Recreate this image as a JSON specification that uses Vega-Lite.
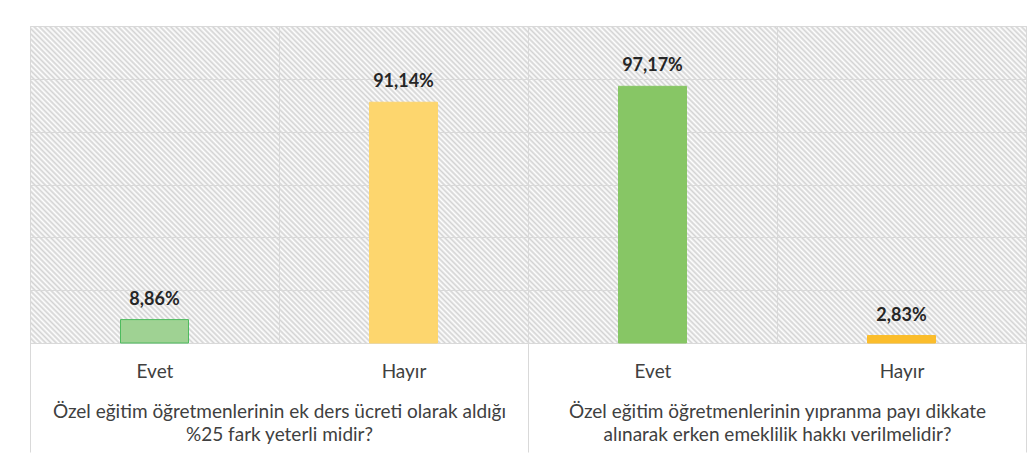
{
 "$schema": "https://vega.github.io/schema/vega-lite/v6.json",
 "width": 996,
 "height": 317,
 "autosize": {"type": "none"},
 "padding": {"left": 30, "top": 26, "right": 9, "bottom": 124},
 "background": "#ffffff",
 "config": {
  "locale": {"number": {"decimal": ",", "thousands": ".", "grouping": [3], "currency": ["", " TL"]}},
  "font": "Lato",
  "view": {
   "stroke": "#d9d9d9",
   "strokeWidth": 1,
   "fill": {
    "gradient": "linear", "x1": 0, "y1": 1, "x2": 1.19702, "y2": 0.61902,
    "stops": [
{"offset":0,"color":"#d3d3d3"},{"offset":0.002,"color":"#fff"},{"offset":0.004,"color":"#d3d3d3"},{"offset":0.006,"color":"#fff"},{"offset":0.008,"color":"#d3d3d3"},
{"offset":0.01,"color":"#fff"},{"offset":0.012,"color":"#d3d3d3"},{"offset":0.014,"color":"#fff"},{"offset":0.016,"color":"#d3d3d3"},{"offset":0.018,"color":"#fff"},
{"offset":0.02,"color":"#d3d3d3"},{"offset":0.022,"color":"#fff"},{"offset":0.024,"color":"#d3d3d3"},{"offset":0.026,"color":"#fff"},{"offset":0.028,"color":"#d3d3d3"},
{"offset":0.03,"color":"#fff"},{"offset":0.032,"color":"#d3d3d3"},{"offset":0.034,"color":"#fff"},{"offset":0.036,"color":"#d3d3d3"},{"offset":0.038,"color":"#fff"},
{"offset":0.04,"color":"#d3d3d3"},{"offset":0.042,"color":"#fff"},{"offset":0.044,"color":"#d3d3d3"},{"offset":0.046,"color":"#fff"},{"offset":0.048,"color":"#d3d3d3"},
{"offset":0.05,"color":"#fff"},{"offset":0.052,"color":"#d3d3d3"},{"offset":0.054,"color":"#fff"},{"offset":0.056,"color":"#d3d3d3"},{"offset":0.058,"color":"#fff"},
{"offset":0.06,"color":"#d3d3d3"},{"offset":0.062,"color":"#fff"},{"offset":0.064,"color":"#d3d3d3"},{"offset":0.066,"color":"#fff"},{"offset":0.068,"color":"#d3d3d3"},
{"offset":0.07,"color":"#fff"},{"offset":0.072,"color":"#d3d3d3"},{"offset":0.074,"color":"#fff"},{"offset":0.076,"color":"#d3d3d3"},{"offset":0.078,"color":"#fff"},
{"offset":0.08,"color":"#d3d3d3"},{"offset":0.082,"color":"#fff"},{"offset":0.084,"color":"#d3d3d3"},{"offset":0.086,"color":"#fff"},{"offset":0.088,"color":"#d3d3d3"},
{"offset":0.09,"color":"#fff"},{"offset":0.092,"color":"#d3d3d3"},{"offset":0.094,"color":"#fff"},{"offset":0.096,"color":"#d3d3d3"},{"offset":0.098,"color":"#fff"},
{"offset":0.10,"color":"#d3d3d3"},{"offset":0.102,"color":"#fff"},{"offset":0.104,"color":"#d3d3d3"},{"offset":0.106,"color":"#fff"},{"offset":0.108,"color":"#d3d3d3"},
{"offset":0.11,"color":"#fff"},{"offset":0.112,"color":"#d3d3d3"},{"offset":0.114,"color":"#fff"},{"offset":0.116,"color":"#d3d3d3"},{"offset":0.118,"color":"#fff"},
{"offset":0.12,"color":"#d3d3d3"},{"offset":0.122,"color":"#fff"},{"offset":0.124,"color":"#d3d3d3"},{"offset":0.126,"color":"#fff"},{"offset":0.128,"color":"#d3d3d3"},
{"offset":0.13,"color":"#fff"},{"offset":0.132,"color":"#d3d3d3"},{"offset":0.134,"color":"#fff"},{"offset":0.136,"color":"#d3d3d3"},{"offset":0.138,"color":"#fff"},
{"offset":0.14,"color":"#d3d3d3"},{"offset":0.142,"color":"#fff"},{"offset":0.144,"color":"#d3d3d3"},{"offset":0.146,"color":"#fff"},{"offset":0.148,"color":"#d3d3d3"},
{"offset":0.15,"color":"#fff"},{"offset":0.152,"color":"#d3d3d3"},{"offset":0.154,"color":"#fff"},{"offset":0.156,"color":"#d3d3d3"},{"offset":0.158,"color":"#fff"},
{"offset":0.16,"color":"#d3d3d3"},{"offset":0.162,"color":"#fff"},{"offset":0.164,"color":"#d3d3d3"},{"offset":0.166,"color":"#fff"},{"offset":0.168,"color":"#d3d3d3"},
{"offset":0.17,"color":"#fff"},{"offset":0.172,"color":"#d3d3d3"},{"offset":0.174,"color":"#fff"},{"offset":0.176,"color":"#d3d3d3"},{"offset":0.178,"color":"#fff"},
{"offset":0.18,"color":"#d3d3d3"},{"offset":0.182,"color":"#fff"},{"offset":0.184,"color":"#d3d3d3"},{"offset":0.186,"color":"#fff"},{"offset":0.188,"color":"#d3d3d3"},
{"offset":0.19,"color":"#fff"},{"offset":0.192,"color":"#d3d3d3"},{"offset":0.194,"color":"#fff"},{"offset":0.196,"color":"#d3d3d3"},{"offset":0.198,"color":"#fff"},
{"offset":0.20,"color":"#d3d3d3"},{"offset":0.202,"color":"#fff"},{"offset":0.204,"color":"#d3d3d3"},{"offset":0.206,"color":"#fff"},{"offset":0.208,"color":"#d3d3d3"},
{"offset":0.21,"color":"#fff"},{"offset":0.212,"color":"#d3d3d3"},{"offset":0.214,"color":"#fff"},{"offset":0.216,"color":"#d3d3d3"},{"offset":0.218,"color":"#fff"},
{"offset":0.22,"color":"#d3d3d3"},{"offset":0.222,"color":"#fff"},{"offset":0.224,"color":"#d3d3d3"},{"offset":0.226,"color":"#fff"},{"offset":0.228,"color":"#d3d3d3"},
{"offset":0.23,"color":"#fff"},{"offset":0.232,"color":"#d3d3d3"},{"offset":0.234,"color":"#fff"},{"offset":0.236,"color":"#d3d3d3"},{"offset":0.238,"color":"#fff"},
{"offset":0.24,"color":"#d3d3d3"},{"offset":0.242,"color":"#fff"},{"offset":0.244,"color":"#d3d3d3"},{"offset":0.246,"color":"#fff"},{"offset":0.248,"color":"#d3d3d3"},
{"offset":0.25,"color":"#fff"},{"offset":0.252,"color":"#d3d3d3"},{"offset":0.254,"color":"#fff"},{"offset":0.256,"color":"#d3d3d3"},{"offset":0.258,"color":"#fff"},
{"offset":0.26,"color":"#d3d3d3"},{"offset":0.262,"color":"#fff"},{"offset":0.264,"color":"#d3d3d3"},{"offset":0.266,"color":"#fff"},{"offset":0.268,"color":"#d3d3d3"},
{"offset":0.27,"color":"#fff"},{"offset":0.272,"color":"#d3d3d3"},{"offset":0.274,"color":"#fff"},{"offset":0.276,"color":"#d3d3d3"},{"offset":0.278,"color":"#fff"},
{"offset":0.28,"color":"#d3d3d3"},{"offset":0.282,"color":"#fff"},{"offset":0.284,"color":"#d3d3d3"},{"offset":0.286,"color":"#fff"},{"offset":0.288,"color":"#d3d3d3"},
{"offset":0.29,"color":"#fff"},{"offset":0.292,"color":"#d3d3d3"},{"offset":0.294,"color":"#fff"},{"offset":0.296,"color":"#d3d3d3"},{"offset":0.298,"color":"#fff"},
{"offset":0.30,"color":"#d3d3d3"},{"offset":0.302,"color":"#fff"},{"offset":0.304,"color":"#d3d3d3"},{"offset":0.306,"color":"#fff"},{"offset":0.308,"color":"#d3d3d3"},
{"offset":0.31,"color":"#fff"},{"offset":0.312,"color":"#d3d3d3"},{"offset":0.314,"color":"#fff"},{"offset":0.316,"color":"#d3d3d3"},{"offset":0.318,"color":"#fff"},
{"offset":0.32,"color":"#d3d3d3"},{"offset":0.322,"color":"#fff"},{"offset":0.324,"color":"#d3d3d3"},{"offset":0.326,"color":"#fff"},{"offset":0.328,"color":"#d3d3d3"},
{"offset":0.33,"color":"#fff"},{"offset":0.332,"color":"#d3d3d3"},{"offset":0.334,"color":"#fff"},{"offset":0.336,"color":"#d3d3d3"},{"offset":0.338,"color":"#fff"},
{"offset":0.34,"color":"#d3d3d3"},{"offset":0.342,"color":"#fff"},{"offset":0.344,"color":"#d3d3d3"},{"offset":0.346,"color":"#fff"},{"offset":0.348,"color":"#d3d3d3"},
{"offset":0.35,"color":"#fff"},{"offset":0.352,"color":"#d3d3d3"},{"offset":0.354,"color":"#fff"},{"offset":0.356,"color":"#d3d3d3"},{"offset":0.358,"color":"#fff"},
{"offset":0.36,"color":"#d3d3d3"},{"offset":0.362,"color":"#fff"},{"offset":0.364,"color":"#d3d3d3"},{"offset":0.366,"color":"#fff"},{"offset":0.368,"color":"#d3d3d3"},
{"offset":0.37,"color":"#fff"},{"offset":0.372,"color":"#d3d3d3"},{"offset":0.374,"color":"#fff"},{"offset":0.376,"color":"#d3d3d3"},{"offset":0.378,"color":"#fff"},
{"offset":0.38,"color":"#d3d3d3"},{"offset":0.382,"color":"#fff"},{"offset":0.384,"color":"#d3d3d3"},{"offset":0.386,"color":"#fff"},{"offset":0.388,"color":"#d3d3d3"},
{"offset":0.39,"color":"#fff"},{"offset":0.392,"color":"#d3d3d3"},{"offset":0.394,"color":"#fff"},{"offset":0.396,"color":"#d3d3d3"},{"offset":0.398,"color":"#fff"},
{"offset":0.40,"color":"#d3d3d3"},{"offset":0.402,"color":"#fff"},{"offset":0.404,"color":"#d3d3d3"},{"offset":0.406,"color":"#fff"},{"offset":0.408,"color":"#d3d3d3"},
{"offset":0.41,"color":"#fff"},{"offset":0.412,"color":"#d3d3d3"},{"offset":0.414,"color":"#fff"},{"offset":0.416,"color":"#d3d3d3"},{"offset":0.418,"color":"#fff"},
{"offset":0.42,"color":"#d3d3d3"},{"offset":0.422,"color":"#fff"},{"offset":0.424,"color":"#d3d3d3"},{"offset":0.426,"color":"#fff"},{"offset":0.428,"color":"#d3d3d3"},
{"offset":0.43,"color":"#fff"},{"offset":0.432,"color":"#d3d3d3"},{"offset":0.434,"color":"#fff"},{"offset":0.436,"color":"#d3d3d3"},{"offset":0.438,"color":"#fff"},
{"offset":0.44,"color":"#d3d3d3"},{"offset":0.442,"color":"#fff"},{"offset":0.444,"color":"#d3d3d3"},{"offset":0.446,"color":"#fff"},{"offset":0.448,"color":"#d3d3d3"},
{"offset":0.45,"color":"#fff"},{"offset":0.452,"color":"#d3d3d3"},{"offset":0.454,"color":"#fff"},{"offset":0.456,"color":"#d3d3d3"},{"offset":0.458,"color":"#fff"},
{"offset":0.46,"color":"#d3d3d3"},{"offset":0.462,"color":"#fff"},{"offset":0.464,"color":"#d3d3d3"},{"offset":0.466,"color":"#fff"},{"offset":0.468,"color":"#d3d3d3"},
{"offset":0.47,"color":"#fff"},{"offset":0.472,"color":"#d3d3d3"},{"offset":0.474,"color":"#fff"},{"offset":0.476,"color":"#d3d3d3"},{"offset":0.478,"color":"#fff"},
{"offset":0.48,"color":"#d3d3d3"},{"offset":0.482,"color":"#fff"},{"offset":0.484,"color":"#d3d3d3"},{"offset":0.486,"color":"#fff"},{"offset":0.488,"color":"#d3d3d3"},
{"offset":0.49,"color":"#fff"},{"offset":0.492,"color":"#d3d3d3"},{"offset":0.494,"color":"#fff"},{"offset":0.496,"color":"#d3d3d3"},{"offset":0.498,"color":"#fff"},
{"offset":0.50,"color":"#d3d3d3"},{"offset":0.502,"color":"#fff"},{"offset":0.504,"color":"#d3d3d3"},{"offset":0.506,"color":"#fff"},{"offset":0.508,"color":"#d3d3d3"},
{"offset":0.51,"color":"#fff"},{"offset":0.512,"color":"#d3d3d3"},{"offset":0.514,"color":"#fff"},{"offset":0.516,"color":"#d3d3d3"},{"offset":0.518,"color":"#fff"},
{"offset":0.52,"color":"#d3d3d3"},{"offset":0.522,"color":"#fff"},{"offset":0.524,"color":"#d3d3d3"},{"offset":0.526,"color":"#fff"},{"offset":0.528,"color":"#d3d3d3"},
{"offset":0.53,"color":"#fff"},{"offset":0.532,"color":"#d3d3d3"},{"offset":0.534,"color":"#fff"},{"offset":0.536,"color":"#d3d3d3"},{"offset":0.538,"color":"#fff"},
{"offset":0.54,"color":"#d3d3d3"},{"offset":0.542,"color":"#fff"},{"offset":0.544,"color":"#d3d3d3"},{"offset":0.546,"color":"#fff"},{"offset":0.548,"color":"#d3d3d3"},
{"offset":0.55,"color":"#fff"},{"offset":0.552,"color":"#d3d3d3"},{"offset":0.554,"color":"#fff"},{"offset":0.556,"color":"#d3d3d3"},{"offset":0.558,"color":"#fff"},
{"offset":0.56,"color":"#d3d3d3"},{"offset":0.562,"color":"#fff"},{"offset":0.564,"color":"#d3d3d3"},{"offset":0.566,"color":"#fff"},{"offset":0.568,"color":"#d3d3d3"},
{"offset":0.57,"color":"#fff"},{"offset":0.572,"color":"#d3d3d3"},{"offset":0.574,"color":"#fff"},{"offset":0.576,"color":"#d3d3d3"},{"offset":0.578,"color":"#fff"},
{"offset":0.58,"color":"#d3d3d3"},{"offset":0.582,"color":"#fff"},{"offset":0.584,"color":"#d3d3d3"},{"offset":0.586,"color":"#fff"},{"offset":0.588,"color":"#d3d3d3"},
{"offset":0.59,"color":"#fff"},{"offset":0.592,"color":"#d3d3d3"},{"offset":0.594,"color":"#fff"},{"offset":0.596,"color":"#d3d3d3"},{"offset":0.598,"color":"#fff"},
{"offset":0.60,"color":"#d3d3d3"},{"offset":0.602,"color":"#fff"},{"offset":0.604,"color":"#d3d3d3"},{"offset":0.606,"color":"#fff"},{"offset":0.608,"color":"#d3d3d3"},
{"offset":0.61,"color":"#fff"},{"offset":0.612,"color":"#d3d3d3"},{"offset":0.614,"color":"#fff"},{"offset":0.616,"color":"#d3d3d3"},{"offset":0.618,"color":"#fff"},
{"offset":0.62,"color":"#d3d3d3"},{"offset":0.622,"color":"#fff"},{"offset":0.624,"color":"#d3d3d3"},{"offset":0.626,"color":"#fff"},{"offset":0.628,"color":"#d3d3d3"},
{"offset":0.63,"color":"#fff"},{"offset":0.632,"color":"#d3d3d3"},{"offset":0.634,"color":"#fff"},{"offset":0.636,"color":"#d3d3d3"},{"offset":0.638,"color":"#fff"},
{"offset":0.64,"color":"#d3d3d3"},{"offset":0.642,"color":"#fff"},{"offset":0.644,"color":"#d3d3d3"},{"offset":0.646,"color":"#fff"},{"offset":0.648,"color":"#d3d3d3"},
{"offset":0.65,"color":"#fff"},{"offset":0.652,"color":"#d3d3d3"},{"offset":0.654,"color":"#fff"},{"offset":0.656,"color":"#d3d3d3"},{"offset":0.658,"color":"#fff"},
{"offset":0.66,"color":"#d3d3d3"},{"offset":0.662,"color":"#fff"},{"offset":0.664,"color":"#d3d3d3"},{"offset":0.666,"color":"#fff"},{"offset":0.668,"color":"#d3d3d3"},
{"offset":0.67,"color":"#fff"},{"offset":0.672,"color":"#d3d3d3"},{"offset":0.674,"color":"#fff"},{"offset":0.676,"color":"#d3d3d3"},{"offset":0.678,"color":"#fff"},
{"offset":0.68,"color":"#d3d3d3"},{"offset":0.682,"color":"#fff"},{"offset":0.684,"color":"#d3d3d3"},{"offset":0.686,"color":"#fff"},{"offset":0.688,"color":"#d3d3d3"},
{"offset":0.69,"color":"#fff"},{"offset":0.692,"color":"#d3d3d3"},{"offset":0.694,"color":"#fff"},{"offset":0.696,"color":"#d3d3d3"},{"offset":0.698,"color":"#fff"},
{"offset":0.70,"color":"#d3d3d3"},{"offset":0.702,"color":"#fff"},{"offset":0.704,"color":"#d3d3d3"},{"offset":0.706,"color":"#fff"},{"offset":0.708,"color":"#d3d3d3"},
{"offset":0.71,"color":"#fff"},{"offset":0.712,"color":"#d3d3d3"},{"offset":0.714,"color":"#fff"},{"offset":0.716,"color":"#d3d3d3"},{"offset":0.718,"color":"#fff"},
{"offset":0.72,"color":"#d3d3d3"},{"offset":0.722,"color":"#fff"},{"offset":0.724,"color":"#d3d3d3"},{"offset":0.726,"color":"#fff"},{"offset":0.728,"color":"#d3d3d3"},
{"offset":0.73,"color":"#fff"},{"offset":0.732,"color":"#d3d3d3"},{"offset":0.734,"color":"#fff"},{"offset":0.736,"color":"#d3d3d3"},{"offset":0.738,"color":"#fff"},
{"offset":0.74,"color":"#d3d3d3"},{"offset":0.742,"color":"#fff"},{"offset":0.744,"color":"#d3d3d3"},{"offset":0.746,"color":"#fff"},{"offset":0.748,"color":"#d3d3d3"},
{"offset":0.75,"color":"#fff"},{"offset":0.752,"color":"#d3d3d3"},{"offset":0.754,"color":"#fff"},{"offset":0.756,"color":"#d3d3d3"},{"offset":0.758,"color":"#fff"},
{"offset":0.76,"color":"#d3d3d3"},{"offset":0.762,"color":"#fff"},{"offset":0.764,"color":"#d3d3d3"},{"offset":0.766,"color":"#fff"},{"offset":0.768,"color":"#d3d3d3"},
{"offset":0.77,"color":"#fff"},{"offset":0.772,"color":"#d3d3d3"},{"offset":0.774,"color":"#fff"},{"offset":0.776,"color":"#d3d3d3"},{"offset":0.778,"color":"#fff"},
{"offset":0.78,"color":"#d3d3d3"},{"offset":0.782,"color":"#fff"},{"offset":0.784,"color":"#d3d3d3"},{"offset":0.786,"color":"#fff"},{"offset":0.788,"color":"#d3d3d3"},
{"offset":0.79,"color":"#fff"},{"offset":0.792,"color":"#d3d3d3"},{"offset":0.794,"color":"#fff"},{"offset":0.796,"color":"#d3d3d3"},{"offset":0.798,"color":"#fff"},
{"offset":0.80,"color":"#d3d3d3"},{"offset":0.802,"color":"#fff"},{"offset":0.804,"color":"#d3d3d3"},{"offset":0.806,"color":"#fff"},{"offset":0.808,"color":"#d3d3d3"},
{"offset":0.81,"color":"#fff"},{"offset":0.812,"color":"#d3d3d3"},{"offset":0.814,"color":"#fff"},{"offset":0.816,"color":"#d3d3d3"},{"offset":0.818,"color":"#fff"},
{"offset":0.82,"color":"#d3d3d3"},{"offset":0.822,"color":"#fff"},{"offset":0.824,"color":"#d3d3d3"},{"offset":0.826,"color":"#fff"},{"offset":0.828,"color":"#d3d3d3"},
{"offset":0.83,"color":"#fff"},{"offset":0.832,"color":"#d3d3d3"},{"offset":0.834,"color":"#fff"},{"offset":0.836,"color":"#d3d3d3"},{"offset":0.838,"color":"#fff"},
{"offset":0.84,"color":"#d3d3d3"},{"offset":0.842,"color":"#fff"},{"offset":0.844,"color":"#d3d3d3"},{"offset":0.846,"color":"#fff"},{"offset":0.848,"color":"#d3d3d3"},
{"offset":0.85,"color":"#fff"},{"offset":0.852,"color":"#d3d3d3"},{"offset":0.854,"color":"#fff"},{"offset":0.856,"color":"#d3d3d3"},{"offset":0.858,"color":"#fff"},
{"offset":0.86,"color":"#d3d3d3"},{"offset":0.862,"color":"#fff"},{"offset":0.864,"color":"#d3d3d3"},{"offset":0.866,"color":"#fff"},{"offset":0.868,"color":"#d3d3d3"},
{"offset":0.87,"color":"#fff"},{"offset":0.872,"color":"#d3d3d3"},{"offset":0.874,"color":"#fff"},{"offset":0.876,"color":"#d3d3d3"},{"offset":0.878,"color":"#fff"},
{"offset":0.88,"color":"#d3d3d3"},{"offset":0.882,"color":"#fff"},{"offset":0.884,"color":"#d3d3d3"},{"offset":0.886,"color":"#fff"},{"offset":0.888,"color":"#d3d3d3"},
{"offset":0.89,"color":"#fff"},{"offset":0.892,"color":"#d3d3d3"},{"offset":0.894,"color":"#fff"},{"offset":0.896,"color":"#d3d3d3"},{"offset":0.898,"color":"#fff"},
{"offset":0.90,"color":"#d3d3d3"},{"offset":0.902,"color":"#fff"},{"offset":0.904,"color":"#d3d3d3"},{"offset":0.906,"color":"#fff"},{"offset":0.908,"color":"#d3d3d3"},
{"offset":0.91,"color":"#fff"},{"offset":0.912,"color":"#d3d3d3"},{"offset":0.914,"color":"#fff"},{"offset":0.916,"color":"#d3d3d3"},{"offset":0.918,"color":"#fff"},
{"offset":0.92,"color":"#d3d3d3"},{"offset":0.922,"color":"#fff"},{"offset":0.924,"color":"#d3d3d3"},{"offset":0.926,"color":"#fff"},{"offset":0.928,"color":"#d3d3d3"},
{"offset":0.93,"color":"#fff"},{"offset":0.932,"color":"#d3d3d3"},{"offset":0.934,"color":"#fff"},{"offset":0.936,"color":"#d3d3d3"},{"offset":0.938,"color":"#fff"},
{"offset":0.94,"color":"#d3d3d3"},{"offset":0.942,"color":"#fff"},{"offset":0.944,"color":"#d3d3d3"},{"offset":0.946,"color":"#fff"},{"offset":0.948,"color":"#d3d3d3"},
{"offset":0.95,"color":"#fff"},{"offset":0.952,"color":"#d3d3d3"},{"offset":0.954,"color":"#fff"},{"offset":0.956,"color":"#d3d3d3"},{"offset":0.958,"color":"#fff"},
{"offset":0.96,"color":"#d3d3d3"},{"offset":0.962,"color":"#fff"},{"offset":0.964,"color":"#d3d3d3"},{"offset":0.966,"color":"#fff"},{"offset":0.968,"color":"#d3d3d3"},
{"offset":0.97,"color":"#fff"},{"offset":0.972,"color":"#d3d3d3"},{"offset":0.974,"color":"#fff"},{"offset":0.976,"color":"#d3d3d3"},{"offset":0.978,"color":"#fff"},
{"offset":0.98,"color":"#d3d3d3"},{"offset":0.982,"color":"#fff"},{"offset":0.984,"color":"#d3d3d3"},{"offset":0.986,"color":"#fff"},{"offset":0.988,"color":"#d3d3d3"},
{"offset":0.99,"color":"#fff"},{"offset":0.992,"color":"#d3d3d3"},{"offset":0.994,"color":"#fff"},{"offset":0.996,"color":"#d3d3d3"},{"offset":0.998,"color":"#fff"},
{"offset":1,"color":"#d3d3d3"}
    ]
   }
  }
 },
 "data": {"values": [
  {"soru": "Özel eğitim öğretmenlerinin ek ders ücreti olarak aldığı\n%25 fark yeterli midir?", "cevap": "Evet", "sira": "1 Evet", "oran": 0.0886},
  {"soru": "Özel eğitim öğretmenlerinin ek ders ücreti olarak aldığı\n%25 fark yeterli midir?", "cevap": "Hayır", "sira": "1 Hayır", "oran": 0.9114},
  {"soru": "Özel eğitim öğretmenlerinin yıpranma payı dikkate\nalınarak erken emeklilik hakkı verilmelidir?", "cevap": "Evet", "sira": "2 Evet", "oran": 0.9717},
  {"soru": "Özel eğitim öğretmenlerinin yıpranma payı dikkate\nalınarak erken emeklilik hakkı verilmelidir?", "cevap": "Hayır", "sira": "2 Hayır", "oran": 0.0283}
 ]},
 "layer": [
  {
   "layer": [
    {
     "mark": {"type": "bar", "width": {"band": 0.273}, "strokeWidth": 1},
     "encoding": {
      "x": {"field": "sira", "type": "nominal", "sort": null,
            "scale": {"paddingInner": 0, "paddingOuter": 0},
            "axis": {"orient": "bottom", "title": null, "domain": false, "ticks": false, "grid": true, "tickBand": "extent",
                     "gridColor": "#d9d9d9", "labelExpr": "datum.value ? split(datum.value, ' ')[1] : ''", "labelFont": "Lato", "labelFontSize": 19,
                     "labelColor": "#404040", "labelPadding": 19, "labelAngle": 0}},
      "y": {"field": "oran", "type": "quantitative", "scale": {"domain": [0, 1.2], "nice": false, "zero": true},
            "axis": {"title": null, "labels": false, "ticks": false, "domain": false, "grid": true, "gridColor": "#d9d9d9",
                     "values": [0, 0.2, 0.4, 0.6, 0.8, 1, 1.2]}},
      "fill": {"field": "sira", "type": "nominal", "legend": null,
               "scale": {"domain": ["1 Evet", "1 Hayır", "2 Evet", "2 Hayır"], "range": ["#9fd293", "#fdd66e", "#87c665", "#fbbd2c"]}},
      "stroke": {"field": "sira", "type": "nominal", "legend": null,
               "scale": {"domain": ["1 Evet", "1 Hayır", "2 Evet", "2 Hayır"], "range": ["#4dbb5e", "#fdd66e", "#87c665", "#fbbd2c"]}}
     }
    },
    {
     "mark": {"type": "text", "dy": -15, "baseline": "alphabetic", "fontWeight": "bold", "fontSize": 18, "font": "Lato", "color": "#262626"},
     "encoding": {
      "x": {"field": "sira", "type": "nominal", "sort": null},
      "y": {"field": "oran", "type": "quantitative"},
      "text": {"field": "oran", "type": "quantitative", "format": ".2%"}
     }
    }
   ]
  },
  {
   "transform": [{"aggregate": [{"op": "count", "as": "n"}], "groupby": ["soru"]}],
   "mark": {"type": "rule", "opacity": 0},
   "encoding": {
    "x": {"field": "soru", "type": "nominal", "sort": null,
          "scale": {"paddingInner": 0, "paddingOuter": 0},
          "axis": {"orient": "bottom", "title": null, "domain": false, "ticks": true, "tickBand": "extent", "tickSize": 109,
                   "tickColor": "#d9d9d9", "grid": false, "labelExpr": "datum.value ? split(datum.value, '\\n') : ''", "labelFont": "Lato",
                   "labelFontSize": 19, "labelLineHeight": 23, "labelLimit": 0, "labelColor": "#404040", "labelPadding": -50, "labelAngle": 0}}
   }
  }
 ],
 "resolve": {"scale": {"x": "independent"}}
}
